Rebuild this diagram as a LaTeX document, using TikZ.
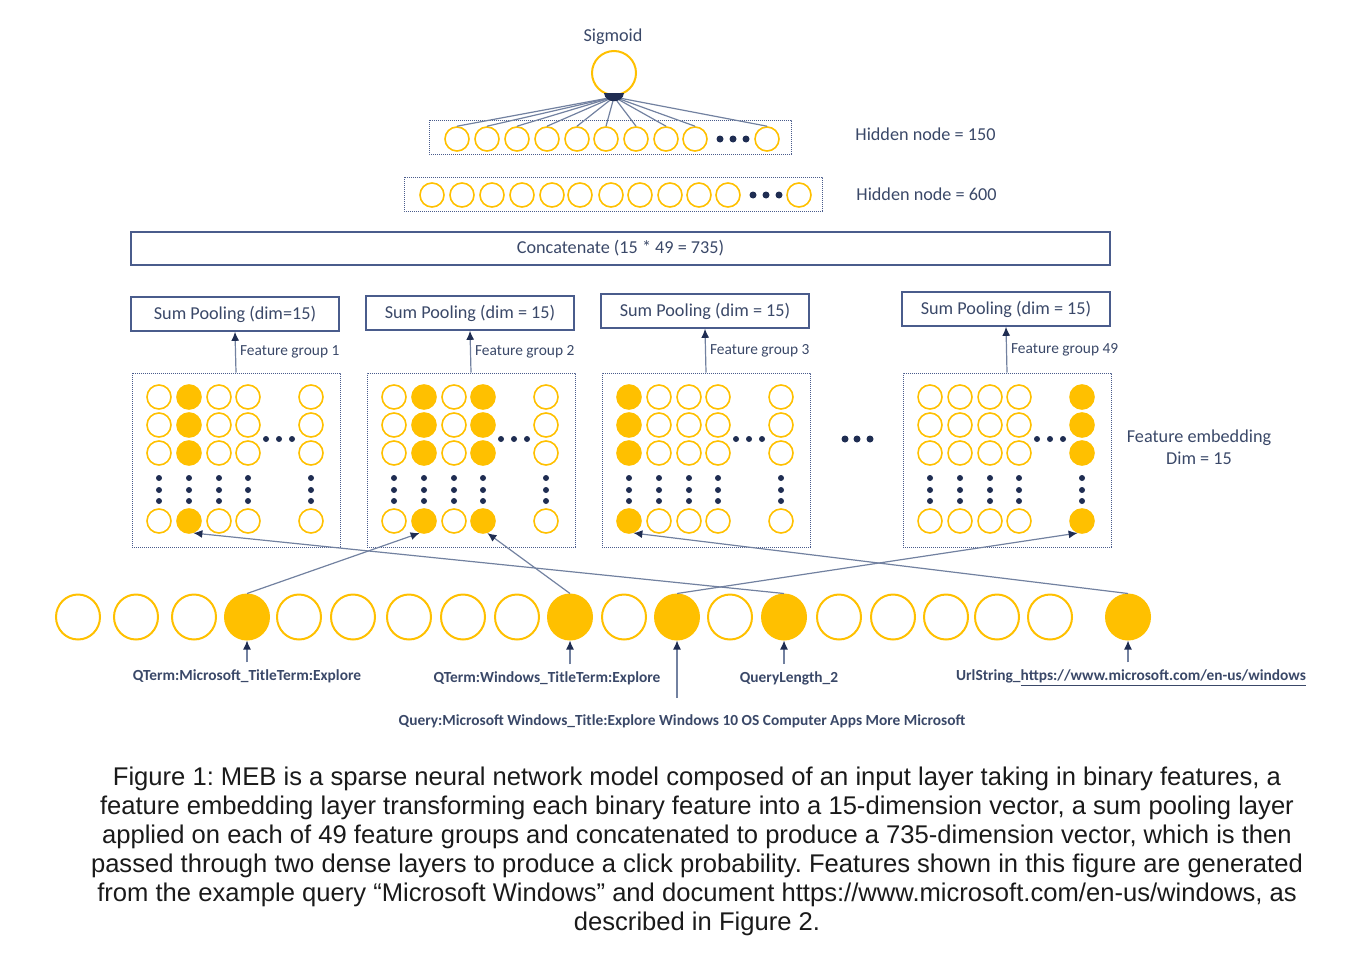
\documentclass[tikz,border=0pt]{standalone}
\usepackage{fontspec}
\setmainfont{Carlito}
\newfontfamily\capfont{Liberation Sans}
\usetikzlibrary{arrows.meta,shapes.geometric}
\definecolor{gold}{HTML}{FFC000}
\definecolor{txt}{HTML}{3A4868}
\definecolor{boxc}{HTML}{4A5C8C}
\definecolor{wirec}{HTML}{7281A0}
\definecolor{dotc}{HTML}{1F2D52}
\definecolor{capc}{HTML}{1A1A1A}
\frenchspacing

\begin{document}
\begin{tikzpicture}[x=0.5pt,y=-0.5pt,
		unit/.style={circle,draw=gold,line width=0.8pt,minimum size=12pt,inner sep=0pt},
		hot/.style={unit,fill=gold},
		inp/.style={ellipse,draw=gold,line width=1pt,minimum width=22pt,minimum height=22.5pt,inner sep=0pt},
		hotinp/.style={inp,fill=gold},
		dotbox/.style={draw=boxc,line width=0.5pt,dash pattern=on 0.6pt off 0.4pt},
		pool/.style={draw=boxc,line width=0.8pt,minimum width=104pt,minimum height=17pt,inner sep=0pt,text=txt,font=\fontsize{9.1}{11}\selectfont},
		wire/.style={draw=wirec,line width=0.6pt,-{Latex[length=4.5pt,width=4pt,color=dotc]}},
		lbl/.style={text=txt,font=\fontsize{9.1}{11}\selectfont},
		fg/.style={text=txt,font=\fontsize{7.7}{9}\selectfont,inner sep=2pt},
		feat/.style={text=txt,font=\bfseries\fontsize{7.7}{9}\selectfont},
		bead/.style={circle,fill=dotc,inner sep=0pt,minimum size=3pt}]
	\useasboundingbox (0,0) rectangle (1352,969);
	\node[lbl] (sigtxt) at (613,37) {Sigmoid};
	\node[unit,line width=1pt,minimum size=22pt] (sig) at (614,73) {};
	\coordinate (hub) at (614,97);
	\draw[dotbox] (429,120) rectangle (791,154);
	\foreach \x [count=\i] in {457,487,517,547,577,606,636,666,695,767}
		\node[unit] (h\i) at (\x,139) {};
	\foreach \x in {720,733,746}
		\node[bead,minimum size=3.5pt] (hdot\x) at (\x,139) {};
	\foreach \i in {1,...,10}
		\draw[wirec,line width=0.6pt] (hub) -- (h\i.north);
	\fill[dotc] (604,93) .. controls (605,104) and (623,104) .. (624,93) -- cycle;
	\node[lbl,anchor=west,inner sep=0pt] (hn150) at (855,134) {Hidden node = 150};
	\draw[dotbox] (404,177) rectangle (822,211);
	\foreach \x [count=\i] in {432,462,492,522,552,580,611,640,670,699,728,799}
		\node[unit] (k\i) at (\x,195) {};
	\foreach \x in {753,766,779}
		\node[bead,minimum size=3.5pt] (kdot\x) at (\x,195) {};
	\node[lbl,anchor=west,inner sep=0pt] (hn600) at (856,194) {Hidden node = 600};
	\node[pool,minimum width=489.5pt,minimum height=16.5pt] (cat) at (620.5,248.5) {Concatenate (15 * 49 = 735)};
	\foreach \g/\L/\y/\pt/\sa/\sb/\sc/\sd/\se/\lab in {1/132/314/dim=15/unit/hot/unit/unit/unit/1, 2/367/313/dim = 15/unit/hot/unit/hot/unit/2, 3/602/311/dim = 15/hot/unit/unit/unit/unit/3, 4/903/309/dim = 15/unit/unit/unit/unit/hot/49} {
		\node[dotbox,minimum width=104pt,minimum height=87pt,inner sep=0pt] (emb\g) at (\L+104,460) {};
		\node[pool] (pool\g) at (\L+103,\y) {Sum Pooling (\pt)};
		\draw[wire] (emb\g.north) -- node[fg,right] {Feature group \lab} (pool\g.south);
		\foreach \c/\s/\dx in {1/\sa/27,2/\sb/57,3/\sc/87,4/\sd/116,5/\se/179} {
			\foreach \r/\yy in {1/397,2/425,3/453,4/521}
				\node[\s] (e\g\c\r) at (\L+\dx,\yy) {};
			\foreach \yy in {478,490,501}
				\node[bead] (v\g\c\yy) at (\L+\dx,\yy) {};
		}
		\foreach \dx in {134,147,160}
			\node[bead] (d\g\dx) at (\L+\dx,439) {};
	}
	\foreach \x in {845,857,870}
		\node[bead,minimum size=3.5pt] (mdot\x) at (\x,439) {};
	\node[lbl,align=center] (fe) at (1199,447) {Feature embedding\\Dim = 15};
	\foreach \x/\s [count=\i] in {78/inp,136/inp,194/inp,247/hotinp,299/inp,353/inp,409/inp,463/inp,517/inp,570/hotinp,624/inp,677/hotinp,730/inp,784/hotinp,839/inp,893/inp,946/inp,997/inp,1050/inp,1128/hotinp}
		\node[\s] (inp\i) at (\x,617) {};
	\draw[wire] (inp4.north) -- (e224.-110);
	\draw[wire] (inp10.north) -- (e244.-70);
	\draw[wire] (inp12.north) -- (e454.-110);
	\draw[wire] (inp14.north) -- (e124.-70);
	\draw[wire] (inp20.north) -- (e314.-70);
	\node[feat] (f1) at (247,676) {QTerm:Microsoft\_TitleTerm:Explore};
	\node[feat] (f2) at (547,678) {QTerm:Windows\_TitleTerm:Explore};
	\node[feat] (f3) at (789,678) {QueryLength\_2};
	\node[feat] (f4) at (1131,678) {UrlString\_\underline{https://www.microsoft.com/en-us/windows}};
	\node[feat] (f5) at (682,721) {Query:Microsoft Windows\_Title:Explore Windows 10 OS Computer Apps More Microsoft};
	\coordinate (qtail) at (677,698);
	\draw[wire] (f1.north) -- (inp4.south);
	\draw[wire] (inp10 |- f2.north) -- (inp10.south);
	\draw[wire] (qtail) -- (inp12.south);
	\draw[wire] (inp14 |- f3.north) -- (inp14.south);
	\draw[wire] (inp20 |- f4.north) -- (inp20.south);
	\node[text=capc,align=center,font=\capfont\fontsize{12.8}{14.5}\selectfont] (cap) at (697,851) {Figure 1: MEB is a sparse neural network model composed of an input layer taking in binary features, a\\feature embedding layer transforming each binary feature into a 15-dimension vector, a sum pooling layer\\applied on each of 49 feature groups and concatenated to produce a 735-dimension vector, which is then\\passed through two dense layers to produce a click probability. Features shown in this figure are generated\\from the example query “Microsoft Windows” and document https://www.microsoft.com/en-us/windows, as\\described in Figure 2.};
\end{tikzpicture}
\end{document}
